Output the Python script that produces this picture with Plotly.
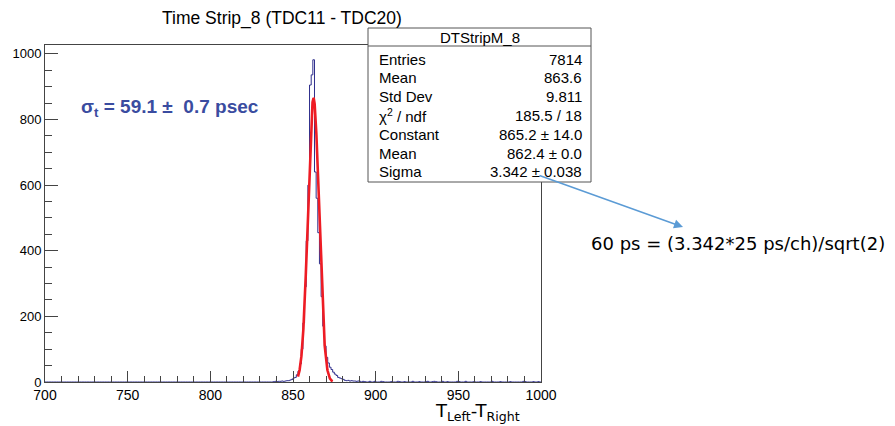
import numpy as np
import plotly.graph_objects as go

# ---------------- data ----------------
hist_lo, hist_hi, n_bins = 700, 1000, 300
bin_low_edges = [838, 839, 840, 841, 842, 843, 844, 845, 846, 847, 848, 849,
                 850, 851, 852, 853, 854, 855, 856, 857, 858, 859, 860, 861,
                 862, 863, 864, 865, 866, 867, 868, 869, 870, 871, 872, 873,
                 874, 875, 876, 877, 878, 879, 880, 881, 882, 883, 884, 885,
                 886, 887, 888, 889, 890, 892, 893, 896, 899, 903, 904, 909,
                 913, 914, 917, 922, 926, 930, 931, 934, 935, 936, 940, 943,
                 949, 950, 954, 959, 963, 970, 975, 981, 989, 990, 995, 998]
bin_counts = [1, 2, 1, 2, 2, 3, 2, 3, 4, 4, 6, 8,
              12, 14, 22, 33, 55, 100, 180, 290, 430, 600, 905, 936,
              982, 640, 560, 455, 360, 260, 170, 110, 75, 58, 45, 38,
              30, 24, 20, 14, 12, 10, 8, 5, 4, 5, 3, 4,
              3, 3, 2, 3, 2, 2, 1, 2, 2, 2, 1, 1,
              2, 1, 1, 2, 1, 1, 2, 1, 2, 1, 2, 1,
              2, 1, 2, 1, 1, 2, 1, 1, 2, 1, 1, 1]

fit_constant = 865.2
fit_mean = 862.4
fit_sigma = 3.342
fit_range = [853.0, 874.0]

title_text = "Time Strip_8 (TDC11 - TDC20)"
stats_title = "DTStripM_8"
stats_labels = ["Entries", "Mean", "Std Dev", "χ<sup>2</sup> / ndf", "Constant", "Mean", "Sigma"]
stats_values = ["7814", "863.6", "9.811", "185.5 / 18", "865.2 ± 14.0", "862.4 ± 0.0", "3.342 ± 0.038"]

x_ticks = [700, 750, 800, 850, 900, 950, 1000]
y_ticks = [0, 200, 400, 600, 800, 1000]

# ---------------- geometry helpers ----------------
W, H = 895, 426
ML, MR, MT, MB = 45, 354, 45, 44
PW, PH = W - ML - MR, H - MT - MB


def px(xp):
    return (xp - ML) / PW


def py(yp):
    return (H - MB - yp) / PH


# ---------------- build histogram outline ----------------
edges = np.linspace(hist_lo, hist_hi, n_bins + 1)
counts_full = np.zeros(n_bins)
for lo, c in zip(bin_low_edges, bin_counts):
    counts_full[int(round(lo - hist_lo))] = c
step_y = np.append(counts_full, counts_full[-1])

xf = np.linspace(fit_range[0], fit_range[1], 400)
yf = fit_constant * np.exp(-0.5 * ((xf - fit_mean) / fit_sigma) ** 2)

fig = go.Figure()
fig.add_trace(go.Scatter(x=edges, y=step_y, mode="lines", line_shape="hv",
                         line=dict(color="#2e2e8c", width=1), hoverinfo="skip",
                         showlegend=False))
fig.add_trace(go.Scatter(x=xf, y=yf, mode="lines",
                         line=dict(color="#ee1c24", width=2.6), hoverinfo="skip",
                         showlegend=False))

axis_font = dict(family="Liberation Sans, Arial, sans-serif", size=14, color="black")
fig.update_xaxes(range=[hist_lo, hist_hi], tickvals=x_ticks, ticks="inside", ticklen=11,
                 tickcolor="#444", showline=True, linecolor="#444", linewidth=1, mirror=True,
                 showgrid=False, zeroline=False, tickfont=axis_font,
                 minor=dict(dtick=10, ticks="inside", ticklen=6, tickcolor="#444"))
fig.update_yaxes(range=[0, 1027], tickvals=y_ticks, ticks="inside", ticklen=13,
                 tickcolor="#444", showline=True, linecolor="#444", linewidth=1, mirror=True,
                 showgrid=False, zeroline=False,
                 tickfont=dict(family="Liberation Sans, Arial, sans-serif", size=13, color="black"),
                 minor=dict(dtick=50, ticks="inside", ticklen=7, tickcolor="#444"))

shapes = []
annotations = []

# stats box
bx0, bx1, by0, by1 = 368, 591, 28, 182
shapes.append(dict(type="rect", xref="paper", yref="paper", x0=px(bx0), x1=px(bx1),
                   y0=py(by1), y1=py(by0), line=dict(color="#555", width=1),
                   fillcolor="white", layer="above"))
shapes.append(dict(type="line", xref="paper", yref="paper", x0=px(bx0), x1=px(bx1),
                   y0=py(46), y1=py(46), line=dict(color="#555", width=1), layer="above"))
stat_font = dict(family="Liberation Sans, Arial, sans-serif", size=15, color="black")
annotations.append(dict(text=stats_title, x=px((bx0 + bx1) / 2), y=py(37), xref="paper", yref="paper",
                        showarrow=False, xanchor="center", yanchor="middle", font=stat_font))
row_y0, row_dy = 59, 18.8
for i, (lab, val) in enumerate(zip(stats_labels, stats_values)):
    yy = py(row_y0 + i * row_dy)
    annotations.append(dict(text=lab, x=px(377), y=yy, xref="paper", yref="paper",
                            showarrow=False, xanchor="left", yanchor="middle", font=stat_font))
    annotations.append(dict(text=val, x=px(584), y=yy, xref="paper", yref="paper",
                            showarrow=False, xanchor="right", yanchor="middle", font=stat_font))

# title
annotations.append(dict(text=title_text, x=px(282), y=py(18), xref="paper", yref="paper",
                        showarrow=False, xanchor="center", yanchor="middle",
                        font=dict(family="Liberation Sans, Arial, sans-serif", size=17.5, color="black")))

# sigma_t annotation
annotations.append(dict(text="<b>σ<sub>t</sub> = 59.1 ±  0.7 psec</b>", x=px(79), y=py(108),
                        xref="paper", yref="paper", showarrow=False, xanchor="left", yanchor="middle",
                        font=dict(family="Liberation Sans, Arial, sans-serif", size=19, color="#3a4ca0")))

# axis title
annotations.append(dict(text="T<sub>Left</sub>-T<sub>Right</sub>", x=px(477), y=py(412),
                        xref="paper", yref="paper", showarrow=False, xanchor="center", yanchor="middle",
                        font=dict(family="DejaVu Sans, sans-serif", size=18, color="black")))

# arrow + note
arrow_tail = (538, 175)
arrow_head = (683, 227)
annotations.append(dict(text="", x=px(arrow_head[0]), y=py(arrow_head[1]),
                        ax=arrow_tail[0] - arrow_head[0], ay=arrow_tail[1] - arrow_head[1],
                        xref="paper", yref="paper", axref="pixel", ayref="pixel",
                        showarrow=True, arrowhead=2, arrowsize=1.2, arrowwidth=1.5,
                        arrowcolor="#5b9bd5"))
annotations.append(dict(text="60 ps = (3.342*25 ps/ch)/sqrt(2)", x=px(589), y=py(243),
                        xref="paper", yref="paper", showarrow=False, xanchor="left", yanchor="middle",
                        font=dict(family="DejaVu Sans, sans-serif", size=18, color="black")))

fig.update_layout(width=W, height=H, margin=dict(l=ML, r=MR, t=MT, b=MB),
                  paper_bgcolor="white", plot_bgcolor="white",
                  shapes=shapes, annotations=annotations, showlegend=False)

fig.write_html("out.html", config={"displayModeBar": False},
               post_script="document.body.style.margin='0px';")
